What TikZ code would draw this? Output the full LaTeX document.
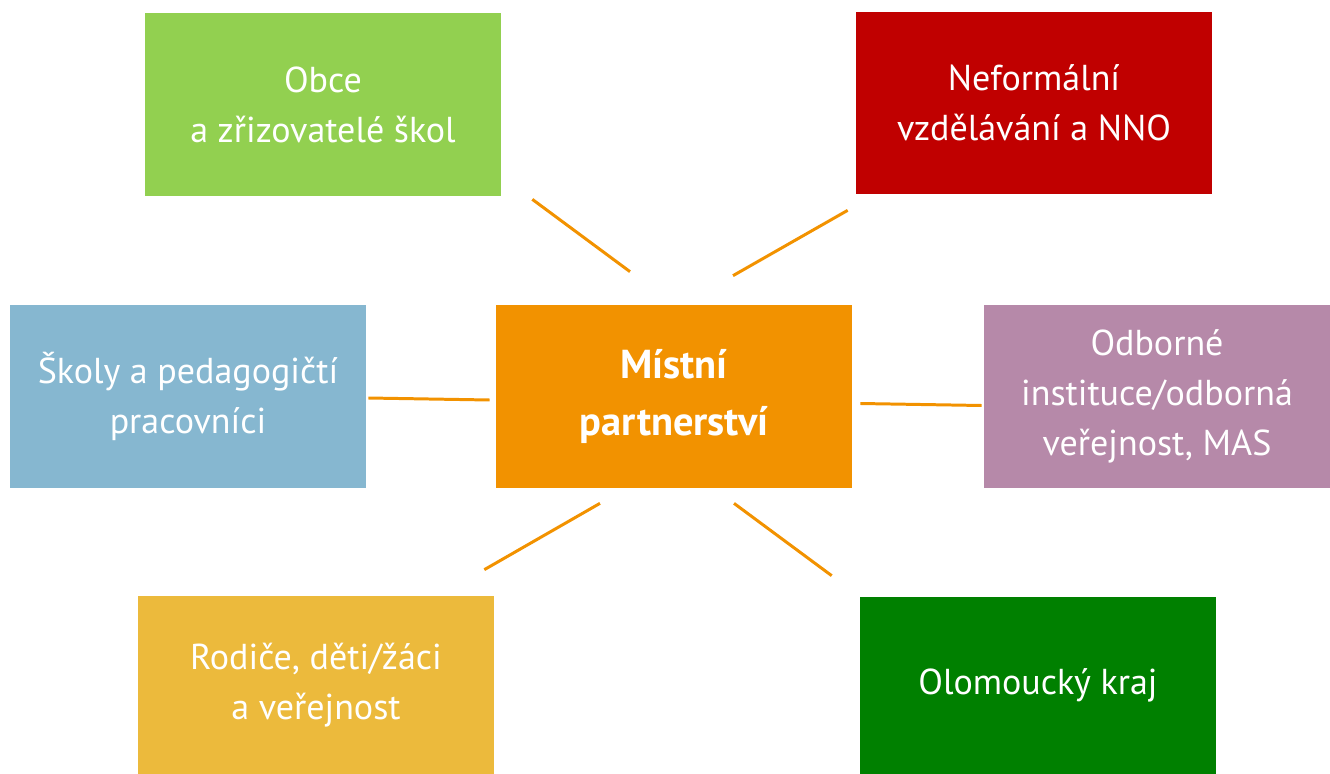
\documentclass[tikz,border=0pt]{standalone}
\usepackage{fontspec}
\setmainfont{PT Sans}
\usepackage{xcolor}
\usetikzlibrary{calc}

\definecolor{obcegreen}{HTML}{92D050}
\definecolor{nnored}{HTML}{C00000}
\definecolor{skolyblue}{HTML}{86B7D0}
\definecolor{mistorange}{HTML}{F29200}
\definecolor{odbpurple}{HTML}{B689A9}
\definecolor{rodyellow}{HTML}{ECBA3C}
\definecolor{krajgreen}{HTML}{008000}

\tikzset{
  box/.style={draw=none, text=white, align=center, inner sep=0pt,
    minimum width=7.12cm, minimum height=3.66cm,
    font=\fontsize{20.5}{28.5}\selectfont},
  link/.style={draw=mistorange, line width=1.7pt}
}

\begin{document}
\begin{tikzpicture}[x=0.02cm, y=-0.02cm]
    \useasboundingbox (0,0) rectangle (1330,774);

    % kolem
    \node[box, fill=obcegreen] (obce) at (323,104.5) {Obce\\a zřizovatelé škol};
    \node[box, fill=nnored, minimum height=3.64cm] (nno) at (1034,103) {Neformální\\vzdělávání a NNO};
    \node[box, fill=skolyblue] (skoly) at (188,396.5) {Školy a pedagogičtí\\pracovníci};
    \node[box, fill=odbpurple, minimum width=6.92cm] (odb) at (1157,396.5) {Odborné\\instituce/odborná\\veřejnost, MAS};
    \node[box, fill=rodyellow, minimum height=3.56cm] (rod) at (316,685) {Rodiče, děti/žáci\\a veřejnost};
    \node[box, fill=krajgreen, minimum height=3.54cm] (kraj) at (1038,685.5) {Olomoucký kraj};

    % stred
    \node[box, fill=mistorange, font=\fontsize{23}{32}\selectfont\bfseries] (mist) at (674,396.5) {Místní\\partnerství};

    % spojnice
    \draw[link] ($(obce.south east)+(31,3)$) -- ($(mist.north)+(-44,-33)$);
    \draw[link] ($(nno.south west)+(-8,16)$) -- ($(mist.north)+(59,-29)$);
    \draw[link] ($(skoly.east)+(2,1.5)$) -- ($(mist.west)+(-6,3.5)$);
    \draw[link] ($(mist.east)+(8,7)$) -- ($(odb.west)+(-2,9)$);
    \draw[link] ($(mist.south)+(-74,15)$) -- ($(rod.north east)+(-10,-26)$);
    \draw[link] ($(mist.south)+(60,15)$) -- ($(kraj.north west)+(-28,-21)$);
\end{tikzpicture}
\end{document}
